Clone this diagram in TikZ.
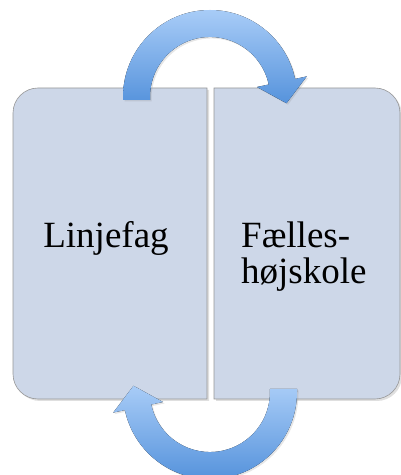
\documentclass[tikz,border=0pt]{standalone}
\usepackage{fontspec}
\setmainfont{Liberation Serif}
\usepackage{tikz}
\usetikzlibrary{shadows}
\definecolor{boxfill}{RGB}{205, 215, 232}
\definecolor{boxline}{RGB}{150, 150, 150}
\definecolor{light}{RGB}{168, 204, 247}
\definecolor{dark}{RGB}{86, 147, 220}

\begin{document}
\begin{tikzpicture}[x=1pt, y=1pt,
  box/.style={fill=boxfill, draw=boxline, line width=0.6pt,
    drop shadow={opacity=0.25, shadow xshift=2pt, shadow yshift=-2pt}},
  loop/.style={top color=light, bottom color=dark,
    drop shadow={opacity=0.2, shadow xshift=1.5pt, shadow yshift=-1.5pt}},
  word/.style={font=\fontsize{37}{37}\selectfont, text=black, inner sep=0pt}]

  \useasboundingbox (0, 0) rectangle (401, 475);

  % the two boxes
  \draw [box] (207, 76) -- (38, 76) arc[start angle=270, end angle=180, radius=25pt]
              -- (13, 362) arc[start angle=180, end angle=90, radius=25pt]
              -- (207, 387) -- cycle;
  \draw [box] (214, 76) -- (375, 76) arc[start angle=270, end angle=360, radius=25pt]
              -- (400, 362) arc[start angle=0, end angle=90, radius=25pt]
              -- (214, 387) -- cycle;

  \node [word, anchor=base] (linjefag) at (106, 227) {Linjefag};
  \node [word, anchor=base west, align=left] (faelles) at (241, 191)
        {Fælles-\\højskole};

  % arrow on top
  \fill [loop] (123, 375) -- (123, 378) arc[start angle=180, end angle=12, radius=87pt]
               -- (306.8, 398.6) -- (286.5, 371.8) -- (257, 388)
               -- (268.7, 390.5) arc[start angle=12, end angle=180, radius=60pt]
               -- (150, 375) -- cycle;

  % arrow below
  \fill [loop] (297, 86) -- (297, 83) arc[start angle=0, end angle=-168, radius=87pt]
               -- (113.2, 62.4) -- (133.5, 89.2) -- (163, 73)
               -- (151.3, 70.5) arc[start angle=-168, end angle=0, radius=60pt]
               -- (270, 86) -- cycle;

\end{tikzpicture}
\end{document}
